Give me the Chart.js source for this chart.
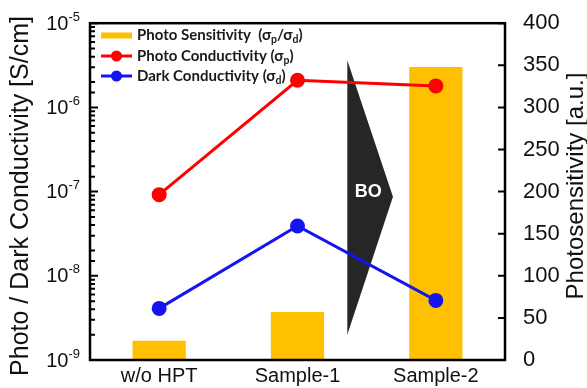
<!DOCTYPE html>
<html>
<head>
<meta charset="utf-8">
<script src="https://cdn.jsdelivr.net/npm/chart.js@4"></script>
<style>
  html, body { margin: 0; padding: 0; background: #fff; }
  #wrap { width: 587px; height: 388px; }
</style>
</head>
<body>
<div id="wrap"><canvas id="condChart"></canvas></div>
<script>
// Samples on the x axis
const categories = ["w/o HPT", "Sample-1", "Sample-2"];
// Conductivities in S/cm (left, log axis)
const photoConductivity = [9.2e-8, 2.1e-6, 1.8e-6];
const darkConductivity = [4.1e-9, 3.9e-8, 5.1e-9];
// Photo sensitivity sigma_p / sigma_d (right axis, a.u.)
const photoSensitivity = [22.8, 57, 348];
// Left axis decades and right axis ticks
const leftExponents = [-9, -8, -7, -6, -5];
const rightTicks = [0, 50, 100, 150, 200, 250, 300, 350, 400];
// BO arrow, in x category units and right axis units
const arrowX = [1.36, 1.69];
const arrowY = [356, 194, 30];

const FONT = "'Liberation Sans', Arial, sans-serif";
const LEGEND_FONT = "Lato, 'Open Sans', sans-serif";

// draw text pieces, some lowered as subscripts
function drawRich(ctx, parts, x, y, size) {
    for (const p of parts) {
        ctx.font = "bold " + (p.sub ? size * 0.7 : size) + "px " + LEGEND_FONT;
        ctx.fillText(p.t, x, p.sub ? y + size * 0.28 : y);
        x += ctx.measureText(p.t).width;
    }
}

const decor = {
    id: "decor",
    beforeDatasetsDraw(chart) {
        const ctx = chart.ctx;
        const x = chart.scales.x, yR = chart.scales.yR;
        const xl = x.getPixelForValue(arrowX[0]), xt = x.getPixelForValue(arrowX[1]);
        const yt = yR.getPixelForValue(arrowY[0]);
        const ym = yR.getPixelForValue(arrowY[1]);
        const yb = yR.getPixelForValue(arrowY[2]);
        ctx.save();
        ctx.fillStyle = "#262626";
        ctx.beginPath();
        ctx.moveTo(xl, yt);
        ctx.lineTo(xt, ym);
        ctx.lineTo(xl, yb);
        ctx.closePath();
        ctx.fill();
        ctx.fillStyle = "#fff";
        ctx.font = "bold 18px " + FONT;
        ctx.textAlign = "center";
        ctx.textBaseline = "middle";
        ctx.fillText("BO", xl + 21, ym - 5);
        ctx.restore();
    },
    afterDatasetsDraw(chart) {
        const ctx = chart.ctx;
        const a = chart.chartArea;
        const yL = chart.scales.yL, yR = chart.scales.yR;
        ctx.save();
        ctx.strokeStyle = "#000";

        // tick marks pointing into the plot
        ctx.lineWidth = 2;
        ctx.beginPath();
        for (const t of yL.ticks) {
            const e = Math.log10(t.value);
            const major = Math.abs(e - Math.round(e)) < 1e-6;
            const py = yL.getPixelForValue(t.value);
            ctx.moveTo(a.left, py);
            ctx.lineTo(a.left + (major ? 8 : 5), py);
        }
        for (const v of rightTicks) {
            const py = yR.getPixelForValue(v);
            ctx.moveTo(a.right, py);
            ctx.lineTo(a.right - 7, py);
        }
        ctx.stroke();

        // frame
        ctx.lineWidth = 2.5;
        ctx.strokeRect(a.left, a.top, a.right - a.left, a.bottom - a.top);

        // left labels 10^n
        ctx.fillStyle = "#111";
        ctx.textBaseline = "middle";
        ctx.textAlign = "left";
        for (const e of leftExponents) {
            const py = yL.getPixelForValue(Math.pow(10, e));
            const sup = String(e);
            ctx.font = "13px " + FONT;
            const supW = ctx.measureText(sup).width;
            ctx.font = "20px " + FONT;
            const baseW = ctx.measureText("10").width;
            const x0 = a.left - 10 - supW - baseW;
            ctx.fillText("10", x0, py + 1);
            ctx.font = "13px " + FONT;
            ctx.fillText(sup, x0 + baseW, py - 6);
        }

        // axis titles
        ctx.textAlign = "center";
        ctx.save();
        ctx.translate(21, 196);
        ctx.rotate(-Math.PI / 2);
        ctx.font = "25px " + FONT;
        ctx.fillText("Photo / Dark Conductivity [S/cm]", 0, 0);
        ctx.restore();
        ctx.save();
        ctx.translate(576, 186);
        ctx.rotate(-Math.PI / 2);
        ctx.font = "24px " + FONT;
        ctx.fillText("Photosensitivity [a.u.]", 0, 0);
        ctx.restore();

        // legend
        const lx = a.left + 11, tx = a.left + 47;
        const rows = [35.5, 56, 76];
        ctx.fillStyle = "#ffc000";
        ctx.fillRect(lx, rows[0] - 3, 31, 6);
        const lineRows = [[rows[1], "#ff0000"], [rows[2], "#1515f0"]];
        for (const [ry, c] of lineRows) {
            ctx.strokeStyle = c;
            ctx.fillStyle = c;
            ctx.lineWidth = 3;
            ctx.beginPath();
            ctx.moveTo(lx, ry);
            ctx.lineTo(lx + 31, ry);
            ctx.stroke();
            ctx.beginPath();
            ctx.arc(lx + 15.5, ry, 5.5, 0, Math.PI * 2);
            ctx.fill();
        }
        ctx.fillStyle = "#1a1a1a";
        ctx.textAlign = "left";
        ctx.textBaseline = "middle";
        drawRich(ctx, [{t: "Photo Sensitivity  (σ"}, {t: "p", sub: true}, {t: "/σ"}, {t: "d", sub: true}, {t: ")"}], tx, rows[0], 15);
        drawRich(ctx, [{t: "Photo Conductivity (σ"}, {t: "p", sub: true}, {t: ")"}], tx, rows[1], 15);
        drawRich(ctx, [{t: "Dark Conductivity (σ"}, {t: "d", sub: true}, {t: ")"}], tx, rows[2], 15);
        ctx.restore();
    }
};

new Chart(document.getElementById("condChart"), {
    type: "bar",
    data: {
        labels: categories,
        datasets: [
            {
                type: "line",
                label: "Photo Conductivity",
                data: photoConductivity,
                yAxisID: "yL",
                borderColor: "#ff0000",
                backgroundColor: "#ff0000",
                borderWidth: 3,
                pointRadius: 6,
                pointHoverRadius: 6,
                order: 1
            },
            {
                type: "line",
                label: "Dark Conductivity",
                data: darkConductivity,
                yAxisID: "yL",
                borderColor: "#1515f0",
                backgroundColor: "#1515f0",
                borderWidth: 3,
                pointRadius: 6,
                pointHoverRadius: 6,
                order: 2
            },
            {
                label: "Photo Sensitivity",
                data: photoSensitivity,
                yAxisID: "yR",
                backgroundColor: "#ffc000",
                categoryPercentage: 1,
                barPercentage: 0.385,
                order: 3
            }
        ]
    },
    options: {
        responsive: true,
        maintainAspectRatio: false,
        animation: false,
        layout: { padding: { top: 23 } },
        plugins: { legend: { display: false }, tooltip: { enabled: false } },
        scales: {
            x: {
                grid: { display: false },
                border: { display: false },
                ticks: { color: "#111", font: { family: FONT, size: 20 }, padding: -4 },
                afterFit(s) { s.height = 28; }
            },
            yL: {
                type: "logarithmic",
                position: "left",
                min: 1e-9,
                max: 1e-5,
                grid: { display: false },
                border: { display: false },
                ticks: { display: false },
                afterFit(s) { s.width = 90; }
            },
            yR: {
                position: "right",
                min: 0,
                max: 400,
                grid: { display: false },
                border: { display: false },
                ticks: { stepSize: 50, color: "#111", font: { family: FONT, size: 22 }, padding: 10 },
                afterFit(s) { s.width = 82; }
            }
        }
    },
    plugins: [decor]
});
</script>
</body>
</html>
